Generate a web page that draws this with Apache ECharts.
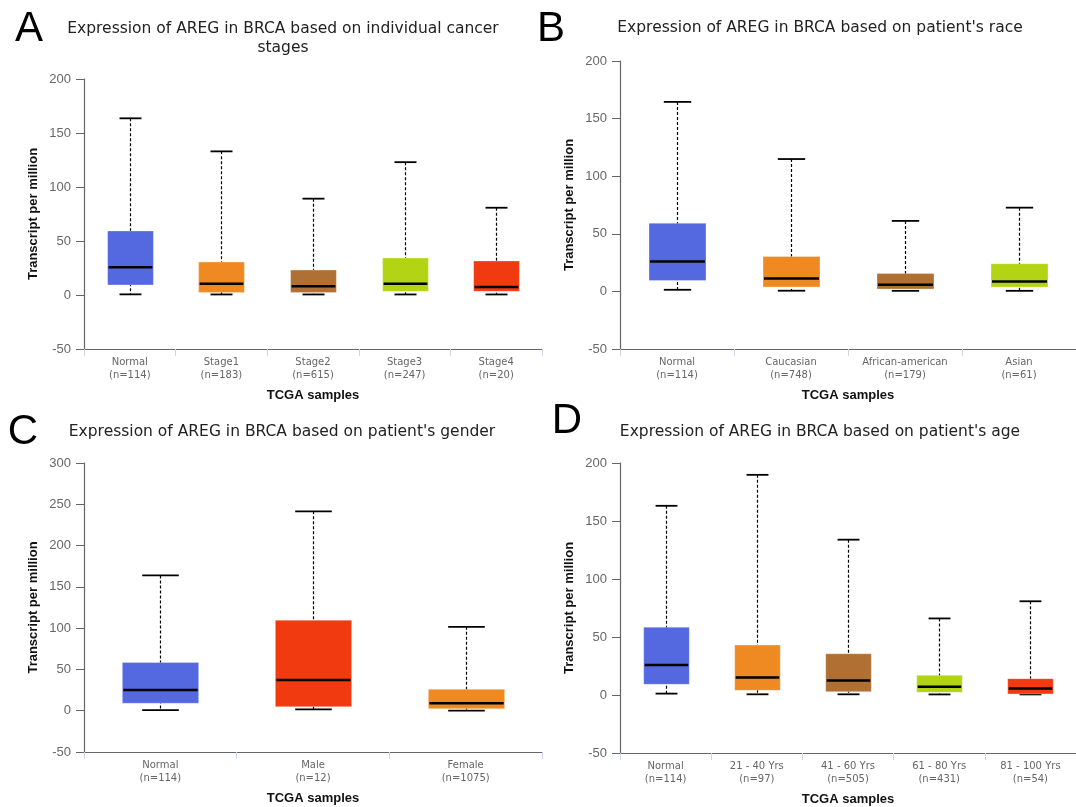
<!DOCTYPE html>
<html>
<head>
<meta charset="utf-8">
<script src="https://cdn.jsdelivr.net/npm/echarts@6/dist/echarts.min.js"></script>
<style>
  html, body { margin: 0; padding: 0; background: #fff; }
  #main { width: 1076px; height: 807px; }
</style>
</head>
<body>
<div id="main"></div>
<script>
// box colours
const BLUE = '#5468e0'
const ORANGE = '#ef8a22'
const BROWN = '#b07033'
const GREEN = '#b2d414'
const RED = '#f23a10'

// each box: [min, Q1, median, Q3, max]
const stageNames = ['Normal', 'Stage1', 'Stage2', 'Stage3', 'Stage4']
const stageCounts = [114, 183, 615, 247, 20]
const stageBoxes = [
  [0.6, 9.3, 25.6, 59.3, 163.6],
  [0.5, 2.4, 10.5, 30.5, 133],
  [0.5, 2.4, 8, 23.1, 89.2],
  [0.5, 3.4, 10.5, 34.2, 123],
  [0.5, 3.4, 7.4, 31.5, 80.8]
]
const stageColors = [BLUE, ORANGE, BROWN, GREEN, RED]

const raceNames = ['Normal', 'Caucasian', 'African-american', 'Asian']
const raceCounts = [114, 748, 179, 61]
const raceBoxes = [
  [1.4, 9.5, 26, 59.2, 164.5],
  [0.6, 3.8, 11.3, 30.3, 114.9],
  [0.5, 2, 5.8, 15.6, 61.2],
  [0.5, 3.8, 8.7, 24, 72.7]
]
const raceColors = [BLUE, ORANGE, BROWN, GREEN]

const genderNames = ['Normal', 'Male', 'Female']
const genderCounts = [114, 12, 1075]
const genderBoxes = [
  [0.8, 9, 25.1, 58.3, 163.8],
  [1.7, 4.9, 37.3, 109.7, 241.5],
  [0, 2.4, 9, 26, 101.6]
]
const genderColors = [BLUE, RED, ORANGE]

const ageNames = ['Normal', '21 - 40 Yrs', '41 - 60 Yrs', '61 - 80 Yrs', '81 - 100 Yrs']
const ageCounts = [114, 97, 505, 431, 54]
const ageBoxes = [
  [1.2, 9.2, 25.8, 58.5, 163.1],
  [0.6, 4, 15, 43, 189.8],
  [0.6, 2.9, 12.4, 35.6, 133.9],
  [0.5, 2.3, 7.2, 17, 66],
  [0.5, 0.9, 5.5, 14.1, 80.8]
]
const ageColors = [BLUE, ORANGE, BROWN, GREEN, RED]

const yMaxA = 200
const yMaxB = 200
const yMaxC = 300
const yMaxD = 200

const panels = [
  { names: stageNames, counts: stageCounts, boxes: stageBoxes, colors: stageColors, max: yMaxA,
    grid: { left: 84, top: 79, width: 458, height: 270 } },
  { names: raceNames, counts: raceCounts, boxes: raceBoxes, colors: raceColors, max: yMaxB,
    grid: { left: 620, top: 61, width: 460, height: 288 } },
  { names: genderNames, counts: genderCounts, boxes: genderBoxes, colors: genderColors, max: yMaxC,
    grid: { left: 84, top: 463, width: 458, height: 289 } },
  { names: ageNames, counts: ageCounts, boxes: ageBoxes, colors: ageColors, max: yMaxD,
    grid: { left: 620, top: 463, width: 460, height: 291 } }
]

function boxRender(colors) {
  return function(params, api) {
    const i = api.value(0)
    const lo = api.coord([i, api.value(1)])
    const q1 = api.coord([i, api.value(2)])
    const med = api.coord([i, api.value(3)])
    const q3 = api.coord([i, api.value(4)])
    const hi = api.coord([i, api.value(5)])
    const band = api.size([1, 0])[0]
    const bw = band * 0.5
    const cw = band * 0.24
    const x = Math.round(lo[0]) + 0.5
    return {
      type: 'group',
      children: [
        { type: 'line', shape: { x1: x, y1: hi[1], x2: x, y2: lo[1] },
          style: { stroke: '#000', lineWidth: 1.2, lineDash: [3, 2] } },
        { type: 'line', shape: { x1: x - cw / 2, y1: hi[1], x2: x + cw / 2, y2: hi[1] },
          style: { stroke: '#000', lineWidth: 1.8 } },
        { type: 'line', shape: { x1: x - cw / 2, y1: lo[1], x2: x + cw / 2, y2: lo[1] },
          style: { stroke: '#000', lineWidth: 1.8 } },
        { type: 'rect', shape: { x: x - bw / 2, y: q3[1], width: bw, height: q1[1] - q3[1] },
          style: { fill: colors[params.dataIndex], stroke: 'rgba(255,255,255,0.3)', lineWidth: 1 } },
        { type: 'line', shape: { x1: x - bw / 2 + 1, y1: med[1], x2: x + bw / 2 - 1, y2: med[1] },
          style: { stroke: '#000', lineWidth: 2.5 } }
      ]
    }
  }
}

const grids = []
const xAxes = []
const yAxes = []
const series = []
panels.forEach(function(p, k) {
  grids.push(p.grid)
  xAxes.push({
    type: 'category',
    gridIndex: k,
    data: p.names.map(function(n, j) { return n + '\n(n=' + p.counts[j] + ')' }),
    axisLine: { onZero: false, lineStyle: { color: '#666', width: 1.2 } },
    axisTick: { show: true, length: 7, lineStyle: { color: '#ccd6eb' } },
    axisLabel: { color: '#666', fontFamily: 'DejaVu Sans', fontSize: 10, lineHeight: 13, margin: 7, interval: 0 },
    name: 'TCGA samples',
    nameLocation: 'middle',
    nameGap: 40,
    nameTextStyle: { color: '#111', fontFamily: 'Liberation Sans', fontWeight: 'bold', fontSize: 13 }
  })
  yAxes.push({
    type: 'value',
    gridIndex: k,
    min: -50,
    max: p.max,
    interval: 50,
    splitLine: { show: false },
    axisLine: { show: true, lineStyle: { color: '#666', width: 1.2 } },
    axisTick: { show: true, length: 8, lineStyle: { color: '#666' } },
    axisLabel: { color: '#666', fontFamily: 'Liberation Sans', fontSize: 13, margin: 13 },
    name: 'Transcript per million',
    nameLocation: 'middle',
    nameRotate: 90,
    nameGap: 44,
    nameTextStyle: { color: '#111', fontFamily: 'Liberation Sans', fontWeight: 'bold', fontSize: 13 }
  })
  series.push({
    type: 'custom',
    xAxisIndex: k,
    yAxisIndex: k,
    renderItem: boxRender(p.colors),
    encode: { x: 0, y: [1, 2, 3, 4, 5] },
    data: p.boxes.map(function(b, j) { return [j].concat(b) })
  })
})

function titleText(x, y, text) {
  return { type: 'text', x: x, y: y,
    style: { text: text, fill: '#222', font: '15.5px "DejaVu Sans"', textAlign: 'center', textVerticalAlign: 'middle', lineHeight: 19 } }
}
function letterText(x, y, text) {
  return { type: 'text', x: x, y: y,
    style: { text: text, fill: '#000', font: '42px "Liberation Sans"', textAlign: 'center', textVerticalAlign: 'middle' } }
}

const myChart = echarts.init(document.getElementById('main'))
const option = {
  animation: false,
  grid: grids,
  xAxis: xAxes,
  yAxis: yAxes,
  series: series,
  graphic: [
    letterText(29, 29, 'A'),
    letterText(551, 29, 'B'),
    letterText(23, 432, 'C'),
    letterText(567, 421, 'D'),
    titleText(283, 38, 'Expression of AREG in BRCA based on individual cancer\nstages'),
    titleText(820, 28, "Expression of AREG in BRCA based on patient's race"),
    titleText(282, 432, "Expression of AREG in BRCA based on patient's gender"),
    titleText(820, 432, "Expression of AREG in BRCA based on patient's age")
  ]
}
myChart.setOption(option)
window.addEventListener('resize', function() {
  myChart.resize()
})
</script>
</body>
</html>
